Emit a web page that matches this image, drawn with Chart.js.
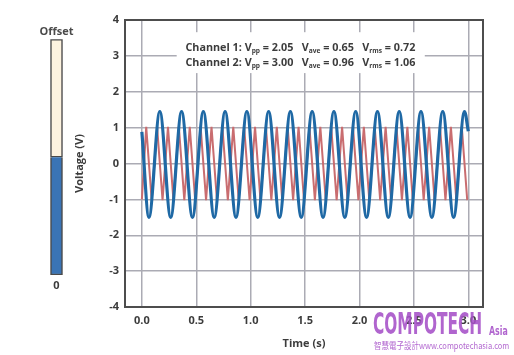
<!DOCTYPE html>
<html><head><meta charset="utf-8">
<script src="https://cdn.jsdelivr.net/npm/chart.js@4.4.1/dist/chart.umd.min.js"></script>
<style>
html,body{margin:0;padding:0;background:#fff;}
#wrap{position:relative;width:514px;height:355px;overflow:hidden;background:#fff;}
#main{position:absolute;left:0;top:0;}
#offset{position:absolute;left:34px;top:20px;}
.wm{position:absolute;color:#a650c8;opacity:.88;white-space:nowrap;transform-origin:0 0;line-height:1;}
#wm1{left:373px;top:307px;font:bold 29.5px 'Liberation Sans Narrow','DejaVu Sans Condensed',sans-serif;}
#wm2{left:489px;top:324px;font:bold 11.5px 'Liberation Sans Narrow','DejaVu Sans Condensed',sans-serif;}
#wm3{left:374px;top:339px;font:9px 'Noto Sans CJK TC','Liberation Sans Narrow',sans-serif;}
</style></head><body>
<div id="wrap">
<canvas id="main" width="514" height="355"></canvas>
<canvas id="offset" width="45" height="280"></canvas>
<div class="wm" id="wm1">COMPOTECH</div>
<div class="wm" id="wm2">Asia</div>
<div class="wm" id="wm3">智慧電子設計www.compotechasia.com</div>
</div>
<script>
// ---------- data ----------
const channel1Time = [0.00,
  0.04,0.09,0.14,0.19,0.24,0.29,0.34,0.39,0.44,0.49,
  0.54,0.59,0.64,0.69,0.74,0.79,0.84,0.89,0.94,0.99,
  1.04,1.09,1.14,1.19,1.24,1.29,1.34,1.39,1.44,1.49,
  1.54,1.59,1.64,1.69,1.74,1.79,1.84,1.89,1.94,1.99,
  2.04,2.09,2.14,2.19,2.24,2.29,2.34,2.39,2.44,2.49,
  2.54,2.59,2.64,2.69,2.74,2.79,2.84,2.89,2.94,2.99];
const channel1Volt = [-1.00,
  1.02,-1.02,1.02,-1.02,1.02,-1.02,1.02,-1.02,1.02,-1.02,
  1.02,-1.02,1.02,-1.02,1.02,-1.02,1.02,-1.02,1.02,-1.02,
  1.02,-1.02,1.02,-1.02,1.02,-1.02,1.02,-1.02,1.02,-1.02,
  1.02,-1.02,1.02,-1.02,1.02,-1.02,1.02,-1.02,1.02,-1.02,
  1.02,-1.02,1.02,-1.02,1.02,-1.02,1.02,-1.02,1.02,-1.02,
  1.02,-1.02,1.02,-1.02,1.02,-1.02,1.02,-1.02,1.02,-1.02];
const channel2Time = [0.00,
  0.065,0.165,0.265,0.365,0.465,0.565,0.665,0.765,0.865,0.965,
  1.065,1.165,1.265,1.365,1.465,1.565,1.665,1.765,1.865,1.965,
  2.065,2.165,2.265,2.365,2.465,2.565,2.665,2.765,2.865,2.965,
  3.00];
const channel2Volt = [0.88,
  -1.50,1.45,-1.50,1.45,-1.50,1.45,-1.50,1.45,-1.50,1.45,
  -1.50,1.45,-1.50,1.45,-1.50,1.45,-1.50,1.45,-1.50,1.45,
  -1.50,1.45,-1.50,1.45,-1.50,1.45,-1.50,1.45,-1.50,1.45,
  0.90];
const xTickValues = [0, 0.5, 1, 1.5, 2, 2.5, 3];
const xTickLabels = ['0.0','0.5','1.0','1.5','2.0','2.5','3.0'];
const yTickValues = [-4,-3,-2,-1,0,1,2,3,4];
const yTickLabels = ['-4','-3','-2','-1','0','1','2','3','4'];
const channelNames = ['Channel 1','Channel 2'];
const channelVpp = [2.05, 3.00];
const channelVave = [0.65, 0.96];
const channelVrms = [0.72, 1.06];
const offsetLabels = ['0'];
const offsetLevel = [0.5];
const offsetRemaining = [0.5];

// ---------- styling ----------
const FONT = "'Open Sans', 'DejaVu Sans', sans-serif";
const TXT = '#3c3c3c';
const GRID = '#ababb4';

const frame = {
  id:'frame',
  afterDatasetsDraw(chart){
    const {ctx, chartArea:a} = chart;
    ctx.save();
    ctx.strokeStyle = '#4d4d4d';
    ctx.lineWidth = 2;
    ctx.strokeRect(a.left, a.top, a.right - a.left, a.bottom - a.top);
    ctx.restore();
  }
};

const statsLayout = {boxT:[0.32, 2.60], boxV:[3.66, 2.52], centerT:1.457, lineV:[3.23, 2.81]};
const stats = {
  id:'stats',
  beforeDatasetsDraw(chart){
    const {ctx, scales:{x, y}} = chart;
    const L = statsLayout;
    const l = x.getPixelForValue(L.boxT[0]), r = x.getPixelForValue(L.boxT[1]);
    const t = y.getPixelForValue(L.boxV[0]), b = y.getPixelForValue(L.boxV[1]);
    ctx.save();
    ctx.fillStyle = '#fff';
    ctx.fillRect(l, t, r - l, b - t);
    ctx.fillStyle = TXT;
    ctx.textBaseline = 'middle';
    ctx.textAlign = 'left';
    const mainF = 'bold 10.8px ' + FONT, subF = 'bold 6.6px ' + FONT;
    channelNames.forEach((name, i) => {
      const parts = [
        [name + ': V', 0], ['pp', 1], [' = ' + channelVpp[i].toFixed(2) + '   V', 0],
        ['ave', 1], [' = ' + channelVave[i].toFixed(2) + '   V', 0],
        ['rms', 1], [' = ' + channelVrms[i].toFixed(2), 0]
      ];
      let w = 0;
      parts.forEach(p => { ctx.font = p[1] ? subF : mainF; w += ctx.measureText(p[0]).width; });
      let cx = x.getPixelForValue(L.centerT) - w / 2;
      const cy = y.getPixelForValue(L.lineV[i]);
      parts.forEach(p => {
        ctx.font = p[1] ? subF : mainF;
        ctx.fillText(p[0], cx, cy + (p[1] ? 3 : 0));
        cx += ctx.measureText(p[0]).width;
      });
    });
    ctx.restore();
  }
};

new Chart(document.getElementById('main'), {
  type:'line',
  data:{
    datasets:[
      {label:'Channel 1', data:channel1Time.map((t,i)=>({x:t, y:channel1Volt[i]})),
       borderColor:'#c96d70', borderWidth:2, pointRadius:0, tension:0, order:1, fill:false},
      {label:'Channel 2', data:channel2Time.map((t,i)=>({x:t, y:channel2Volt[i]})),
       borderColor:'#1f69a5', borderWidth:3.2, pointRadius:0, cubicInterpolationMode:'monotone', order:0, fill:false}
    ]
  },
  options:{
    responsive:false, animation:false,
    layout:{padding:{left:66, right:31, top:20, bottom:0}},
    plugins:{legend:{display:false}, tooltip:{enabled:false}},
    scales:{
      x:{type:'linear', min:-0.155, max:3.135,
        afterBuildTicks:s=>{ s.ticks = xTickValues.map(v=>({value:v})); },
        afterFit:s=>{ s.height = 48; },
        ticks:{callback:(v,i)=>xTickLabels[i], padding:7, color:TXT, maxRotation:0, autoSkip:false,
               font:{family:FONT, size:11, weight:'bold'}},
        grid:{color:GRID, lineWidth:1.5, drawTicks:false},
        border:{display:false},
        title:{display:true, text:'Time (s)', color:TXT, font:{family:FONT, size:11, weight:'bold'},
               padding:{top:4, bottom:4.4}}
      },
      y:{type:'linear', min:-4, max:4,
        afterBuildTicks:s=>{ s.ticks = yTickValues.map(v=>({value:v})); },
        afterFit:s=>{ s.width = 59; },
        ticks:{callback:(v,i)=>yTickLabels[i], padding:6, color:TXT,
               font:{family:FONT, size:11, weight:'bold'}},
        grid:{color:GRID, lineWidth:1.5, drawTicks:false},
        border:{display:false},
        title:{display:true, text:'Voltage (V)', color:TXT, font:{family:FONT, size:11, weight:'bold'},
               padding:{top:7.4, bottom:0}}
      }
    }
  },
  plugins:[stats, frame]
});

new Chart(document.getElementById('offset'), {
  type:'bar',
  data:{
    labels:offsetLabels,
    datasets:[
      {data:offsetLevel, backgroundColor:'#3a74b5', borderColor:'#4a4a4a', borderWidth:1.5,
       borderSkipped:'end', barThickness:12},
      {data:offsetRemaining, backgroundColor:'#fdf3df', borderColor:'#4a4a4a', borderWidth:1.5,
       borderSkipped:false, barThickness:12}
    ]
  },
  options:{
    responsive:false, animation:false,
    layout:{padding:0},
    plugins:{legend:{display:false}, tooltip:{enabled:false},
      title:{display:true, text:'Offset', color:'#4a4a4a', font:{family:FONT, size:11, weight:'bold'},
             padding:{top:5.5, bottom:0.6}}},
    scales:{
      x:{stacked:true, grid:{display:false}, border:{display:false},
         afterFit:s=>{ s.height = 25; },
         ticks:{padding:-4, color:TXT, font:{family:FONT, size:11, weight:'bold'}}},
      y:{stacked:true, display:false, min:0, max:1}
    }
  }
});

// fit watermark widths
[['wm1',109],['wm2',19],['wm3',135]].forEach(([id,w])=>{
  const el = document.getElementById(id);
  el.style.transform = 'scaleX(' + (w / el.offsetWidth) + ')';
});
</script>
</body></html>
